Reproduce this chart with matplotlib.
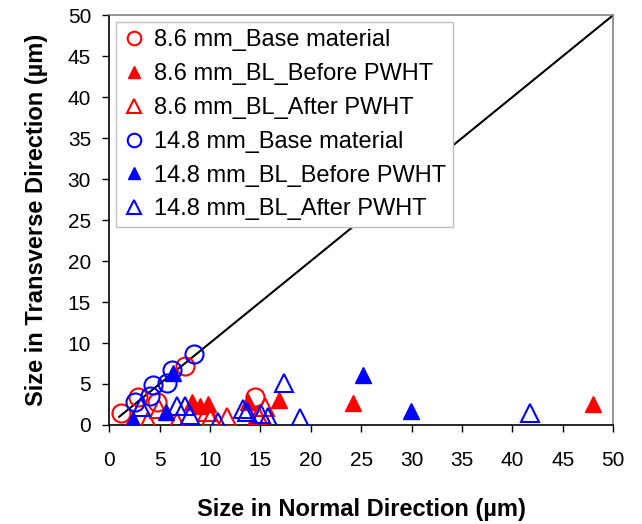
import matplotlib.pyplot as plt
import numpy as np

plt.rcParams['font.family'] = ['Liberation Sans', 'DejaVu Sans']

# 8.6 mm data
base86_x = [1.2, 2.9, 4.7, 7.5, 14.5]
base86_y = [1.5, 3.4, 2.8, 7.2, 3.4]
before86_x = [8.2, 9.0, 9.8, 13.8, 16.9, 24.2, 48.0]
before86_y = [2.8, 2.3, 2.6, 2.8, 3.0, 2.7, 2.5]
after86_x = [2.4, 3.9, 6.7, 9.7, 10.1, 11.7, 14.8, 15.5, 4.9]
after86_y = [0.5, 0.5, 0.4, 1.6, 1.0, 1.0, 1.2, 2.2, 2.0]

# 14.8 mm data
base148_x = [2.6, 4.1, 4.4, 5.7, 6.2, 8.4]
base148_y = [2.85, 3.5, 4.9, 5.1, 6.7, 8.6]
before148_x = [2.4, 5.6, 6.3, 25.2, 29.9]
before148_y = [0.6, 1.6, 6.3, 6.1, 1.75]
after148_x = [3.2, 6.7, 7.5, 8.0, 10.8, 13.3, 13.7, 15.1, 15.8, 17.3, 18.9, 41.8]
after148_y = [2.2, 2.3, 2.3, 1.2, 0.4, 2.0, 1.6, 1.3, 1.0, 5.1, 0.9, 1.5]

line_x = [1, 50]
line_y = [1, 50]

fig = plt.figure(figsize=(6.42, 5.24), dpi=100)
ax = fig.add_axes([0.170, 0.189, 0.785, 0.782])

ax.plot(line_x, line_y, color='black', lw=1.5, zorder=1)

ms = 13
ax.plot(base86_x, base86_y, 'o', mfc='none', mec='red', mew=1.5, ms=ms, label='8.6 mm_Base material', zorder=3)
ax.plot(before86_x, before86_y, '^', mfc='red', mec='red', ms=12, label='8.6 mm_BL_Before PWHT', zorder=3)
ax.plot(after86_x, after86_y, '^', mfc='none', mec='red', mew=1.5, ms=ms, label='8.6 mm_BL_After PWHT', zorder=3)
ax.plot(base148_x, base148_y, 'o', mfc='none', mec='blue', mew=1.5, ms=ms, label='14.8 mm_Base material', zorder=4)
ax.plot(before148_x, before148_y, '^', mfc='blue', mec='blue', ms=12, label='14.8 mm_BL_Before PWHT', zorder=4)
ax.plot(after148_x, after148_y, '^', mfc='none', mec='blue', mew=1.5, ms=ms, label='14.8 mm_BL_After PWHT', zorder=4)

ax.set_xlim(0, 50)
ax.set_ylim(0, 50)
ax.set_xticks(np.arange(0, 51, 5))
ax.set_yticks(np.arange(0, 51, 5))
ax.tick_params(direction='out', length=5, width=1, labelsize=15)
ax.tick_params(axis='x', pad=14)
ax.tick_params(axis='y', pad=8)
for s in ['left', 'bottom']:
    ax.spines[s].set_color('black')
    ax.spines[s].set_linewidth(1.2)
for s in ['top', 'right']:
    ax.spines[s].set_color('#808080')
    ax.spines[s].set_linewidth(1.2)

ax.set_xlabel('Size in Normal Direction (\u00b5m)', fontsize=17, fontweight='bold', labelpad=20)
ax.set_ylabel('Size in Transverse Direction (\u00b5m)', fontsize=17, fontweight='bold', labelpad=14)

leg = ax.legend(loc='upper left', fontsize=17, markerscale=0.75, handlelength=0.9,
                handletextpad=0.4, borderaxespad=0.3, labelspacing=0.5,
                borderpad=0.3, fancybox=False, framealpha=1, edgecolor='#c0c0c0')
leg.get_frame().set_linewidth(1.0)

fig.savefig('out.png', dpi=100)
